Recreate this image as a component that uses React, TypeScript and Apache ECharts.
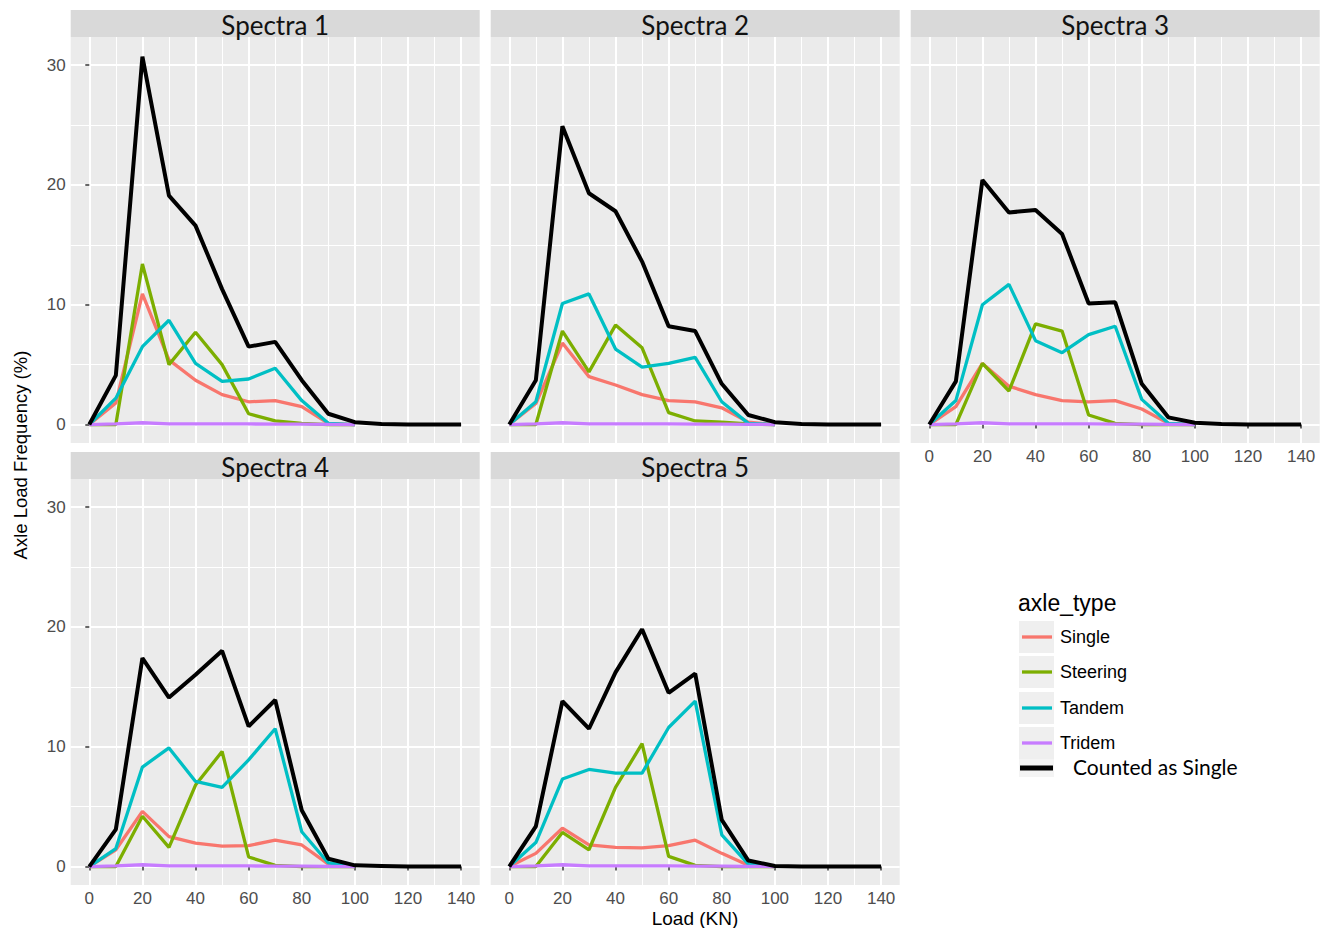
import React, { useEffect, useRef } from "react";
import * as echarts from "echarts";

// ---------- data ----------
const LOADS = [0, 10, 20, 30, 40, 50, 60, 70, 80, 90, 100, 110, 120, 130, 140];
const SPECTRA = ["Spectra 1", "Spectra 2", "Spectra 3", "Spectra 4", "Spectra 5"];
const AXLE_TYPES = ["Single", "Steering", "Tandem", "Tridem"];
const COUNTED_NAME = "Counted as Single";
const X_MAJOR = [0, 20, 40, 60, 80, 100, 120, 140];
const X_MINOR = [10, 30, 50, 70, 90, 110, 130];
const Y_MAJOR = [0, 10, 20, 30];
const Y_MINOR = [5, 15, 25];

// values for loads 0..100
const single1 = [0, 1.8, 10.9, 5.4, 3.7, 2.5, 1.9, 2.0, 1.5, 0.1, 0];
const steering1 = [0, 0, 13.4, 5.0, 7.7, 5.0, 0.9, 0.3, 0.1, 0, 0];
const tandem1 = [0, 2.2, 6.5, 8.7, 5.1, 3.6, 3.8, 4.7, 2.0, 0.1, 0];
const tridem1 = [0, 0.05, 0.15, 0.05, 0.05, 0.05, 0.05, 0.03, 0.03, 0.02, 0];
const counted1 = [0, 4.1, 30.7, 19.1, 16.6, 11.3, 6.5, 6.9, 3.7, 0.9, 0.2, 0.05, 0, 0, 0];

const single2 = [0, 1.75, 6.8, 4.0, 3.3, 2.5, 2.0, 1.9, 1.4, 0.2, 0];
const steering2 = [0, 0, 7.8, 4.4, 8.3, 6.4, 1.0, 0.3, 0.2, 0.05, 0];
const tandem2 = [0, 1.9, 10.1, 10.9, 6.3, 4.8, 5.1, 5.6, 1.9, 0.1, 0];
const tridem2 = [0, 0.05, 0.15, 0.05, 0.05, 0.05, 0.05, 0.03, 0.03, 0.02, 0];
const counted2 = [0, 3.7, 24.9, 19.3, 17.8, 13.6, 8.2, 7.8, 3.4, 0.8, 0.2, 0.05, 0, 0, 0];

const single3 = [0, 1.5, 5.1, 3.2, 2.5, 2.0, 1.9, 2.0, 1.3, 0.1, 0];
const steering3 = [0, 0, 5.1, 2.8, 8.4, 7.8, 0.8, 0.1, 0, 0, 0];
const tandem3 = [0, 2.0, 10.0, 11.7, 7.0, 6.0, 7.5, 8.2, 2.1, 0.1, 0];
const tridem3 = [0, 0.05, 0.15, 0.05, 0.05, 0.05, 0.05, 0.03, 0.03, 0.02, 0];
const counted3 = [0, 3.6, 20.4, 17.7, 17.9, 15.9, 10.1, 10.2, 3.4, 0.6, 0.15, 0.05, 0, 0, 0];

const single4 = [0, 1.4, 4.6, 2.5, 1.95, 1.7, 1.75, 2.2, 1.8, 0.2, 0];
const steering4 = [0, 0, 4.2, 1.6, 6.8, 9.6, 0.8, 0.1, 0, 0, 0];
const tandem4 = [0, 1.5, 8.3, 9.9, 7.1, 6.6, 8.9, 11.5, 2.9, 0.3, 0];
const tridem4 = [0, 0.05, 0.15, 0.05, 0.05, 0.05, 0.05, 0.03, 0.03, 0.02, 0];
const counted4 = [0, 3.1, 17.4, 14.1, 16.0, 18.0, 11.7, 13.9, 4.7, 0.65, 0.1, 0.05, 0, 0, 0];

const single5 = [0, 1.1, 3.2, 1.8, 1.6, 1.55, 1.75, 2.2, 1.1, 0.1, 0];
const steering5 = [0, 0, 2.85, 1.4, 6.6, 10.25, 0.85, 0.1, 0, 0, 0];
const tandem5 = [0, 2.0, 7.3, 8.1, 7.8, 7.8, 11.6, 13.8, 2.65, 0.2, 0];
const tridem5 = [0, 0.05, 0.15, 0.05, 0.05, 0.05, 0.05, 0.03, 0.03, 0.02, 0];
const counted5 = [0, 3.35, 13.8, 11.5, 16.2, 19.8, 14.5, 16.1, 3.9, 0.5, 0.05, 0, 0, 0, 0];

const TYPE_VALUES = [
  [single1, steering1, tandem1, tridem1],
  [single2, steering2, tandem2, tridem2],
  [single3, steering3, tandem3, tridem3],
  [single4, steering4, tandem4, tridem4],
  [single5, steering5, tandem5, tridem5],
];
const COUNTED_VALUES = [counted1, counted2, counted3, counted4, counted5];

// ---------- styling / layout ----------
const TYPE_COLORS = ["#F8766D", "#7CAE00", "#00BFC4", "#C77CFF"];
const PANEL_W = 409;
const PANEL_H = 406;
const STRIP_H = 27;
const PANEL_POS = [
  { left: 70.7, top: 37, showY: true, showX: false },
  { left: 490.7, top: 37, showY: false, showX: false },
  { left: 910.7, top: 37, showY: false, showX: true },
  { left: 70.7, top: 479, showY: true, showX: true },
  { left: 490.7, top: 479, showY: false, showX: true },
];
const X_MIN = -7;
const X_MAX = 147;
const Y_MIN = -1.54;
const Y_MAX = 32.34;
const AXIS_FONT = "'Liberation Sans', Arial, sans-serif";
const STRIP_FONT = "Lato, 'Open Sans', sans-serif";

function buildOption() {
  const grid: any[] = [];
  const xAxis: any[] = [];
  const yAxis: any[] = [];
  const series: any[] = [];
  const graphic: any[] = [];

  PANEL_POS.forEach((p, i) => {
    grid.push({
      left: p.left,
      top: p.top,
      width: PANEL_W,
      height: PANEL_H,
      show: true,
      backgroundColor: "#EBEBEB",
      borderWidth: 0,
    });
    xAxis.push({
      type: "value",
      gridIndex: i,
      min: X_MIN,
      max: X_MAX,
      axisLine: { show: false },
      axisTick: {
        show: p.showX,
        customValues: X_MAJOR,
        length: 4,
        lineStyle: { color: "#333333", width: 1.5 },
      },
      axisLabel: {
        show: p.showX,
        customValues: X_MAJOR,
        color: "#4D4D4D",
        fontSize: 17,
        fontFamily: AXIS_FONT,
        margin: 5,
      },
      splitLine: { show: true, lineStyle: { color: "#FFFFFF", width: 2 } },
    });
    xAxis.push({
      type: "value",
      gridIndex: i,
      min: X_MIN,
      max: X_MAX,
      axisLine: { show: false },
      axisTick: { show: false, customValues: X_MINOR },
      axisLabel: { show: false, customValues: X_MINOR },
      splitLine: { show: true, lineStyle: { color: "#FFFFFF", width: 1 } },
    });
    yAxis.push({
      type: "value",
      gridIndex: i,
      min: Y_MIN,
      max: Y_MAX,
      axisLine: { show: false },
      axisTick: {
        show: p.showY,
        customValues: Y_MAJOR,
        length: 4,
        lineStyle: { color: "#333333", width: 1.5 },
      },
      axisLabel: {
        show: p.showY,
        customValues: Y_MAJOR,
        color: "#4D4D4D",
        fontSize: 17,
        fontFamily: AXIS_FONT,
        margin: 5,
      },
      splitLine: { show: true, lineStyle: { color: "#FFFFFF", width: 2 } },
    });
    yAxis.push({
      type: "value",
      gridIndex: i,
      min: Y_MIN,
      max: Y_MAX,
      axisLine: { show: false },
      axisTick: { show: false, customValues: Y_MINOR },
      axisLabel: { show: false, customValues: Y_MINOR },
      splitLine: { show: true, lineStyle: { color: "#FFFFFF", width: 1 } },
    });

    TYPE_VALUES[i].forEach((vals, k) => {
      series.push({
        type: "line",
        name: AXLE_TYPES[k],
        xAxisIndex: 2 * i,
        yAxisIndex: 2 * i,
        data: vals.map((v, j) => [LOADS[j], v]),
        symbol: "none",
        showSymbol: false,
        clip: false,
        z: 2 + k,
        lineStyle: { color: TYPE_COLORS[k], width: 3.3 },
        itemStyle: { color: TYPE_COLORS[k] },
      });
    });
    series.push({
      type: "line",
      name: COUNTED_NAME,
      xAxisIndex: 2 * i,
      yAxisIndex: 2 * i,
      data: COUNTED_VALUES[i].map((v, j) => [LOADS[j], v]),
      symbol: "none",
      showSymbol: false,
      clip: false,
      z: 10,
      lineStyle: { color: "#000000", width: 4 },
      itemStyle: { color: "#000000" },
    });

    graphic.push({
      type: "rect",
      shape: { x: p.left, y: p.top - STRIP_H, width: PANEL_W, height: STRIP_H },
      style: { fill: "#D9D9D9" },
      silent: true,
    });
    graphic.push({
      type: "text",
      x: p.left + PANEL_W / 2,
      y: p.top - STRIP_H / 2 + 1,
      style: {
        text: SPECTRA[i],
        fontSize: 26,
        fontFamily: STRIP_FONT,
        fill: "#111111",
        align: "center",
        verticalAlign: "middle",
      },
      silent: true,
    });
  });

  graphic.push({
    type: "text",
    x: 20,
    y: 455,
    rotation: Math.PI / 2,
    style: {
      text: "Axle Load Frequency (%)",
      fontSize: 18.5,
      fontFamily: AXIS_FONT,
      fill: "#000000",
      align: "center",
      verticalAlign: "middle",
    },
    silent: true,
  });
  graphic.push({
    type: "text",
    x: 695,
    y: 918,
    style: {
      text: "Load (KN)",
      fontSize: 19,
      fontFamily: AXIS_FONT,
      fill: "#000000",
      align: "center",
      verticalAlign: "middle",
    },
    silent: true,
  });

  graphic.push({
    type: "text",
    x: 1018,
    y: 603,
    style: {
      text: "axle_type",
      fontSize: 23,
      fontFamily: AXIS_FONT,
      fill: "#000000",
      align: "left",
      verticalAlign: "middle",
    },
    silent: true,
  });
  const keyY = [637, 672, 708, 743];
  AXLE_TYPES.forEach((name, k) => {
    graphic.push({
      type: "rect",
      shape: { x: 1019, y: keyY[k] - 16, width: 35, height: 32 },
      style: { fill: "#EFEFEF" },
      silent: true,
    });
    graphic.push({
      type: "line",
      shape: { x1: 1022, y1: keyY[k], x2: 1052, y2: keyY[k] },
      style: { stroke: TYPE_COLORS[k], lineWidth: 3.3 },
      silent: true,
    });
    graphic.push({
      type: "text",
      x: 1060,
      y: keyY[k],
      style: {
        text: name,
        fontSize: 18,
        fontFamily: AXIS_FONT,
        fill: "#000000",
        align: "left",
        verticalAlign: "middle",
      },
      silent: true,
    });
  });
  graphic.push({
    type: "rect",
    shape: { x: 1019, y: 759, width: 35, height: 18 },
    style: { fill: "#F4F4F4" },
    silent: true,
  });
  graphic.push({
    type: "line",
    shape: { x1: 1020, y1: 768, x2: 1053, y2: 768 },
    style: { stroke: "#000000", lineWidth: 5 },
    silent: true,
  });
  graphic.push({
    type: "text",
    x: 1073,
    y: 766,
    style: {
      text: COUNTED_NAME,
      fontSize: 21,
      fontFamily: STRIP_FONT,
      fill: "#000000",
      align: "left",
      verticalAlign: "middle",
    },
    silent: true,
  });

  return {
    animation: false,
    backgroundColor: "#FFFFFF",
    grid,
    xAxis,
    yAxis,
    series,
    graphic,
  };
}

export default function App() {
  const ref = useRef<HTMLDivElement>(null);
  useEffect(() => {
    if (!ref.current) return;
    const chart = echarts.init(ref.current, null, { renderer: "svg" });
    chart.setOption(buildOption() as any);
    return () => chart.dispose();
  }, []);
  return (
    <div
      ref={ref}
      style={{ position: "absolute", left: 0, top: 0, width: 1325, height: 928 }}
    />
  );
}
